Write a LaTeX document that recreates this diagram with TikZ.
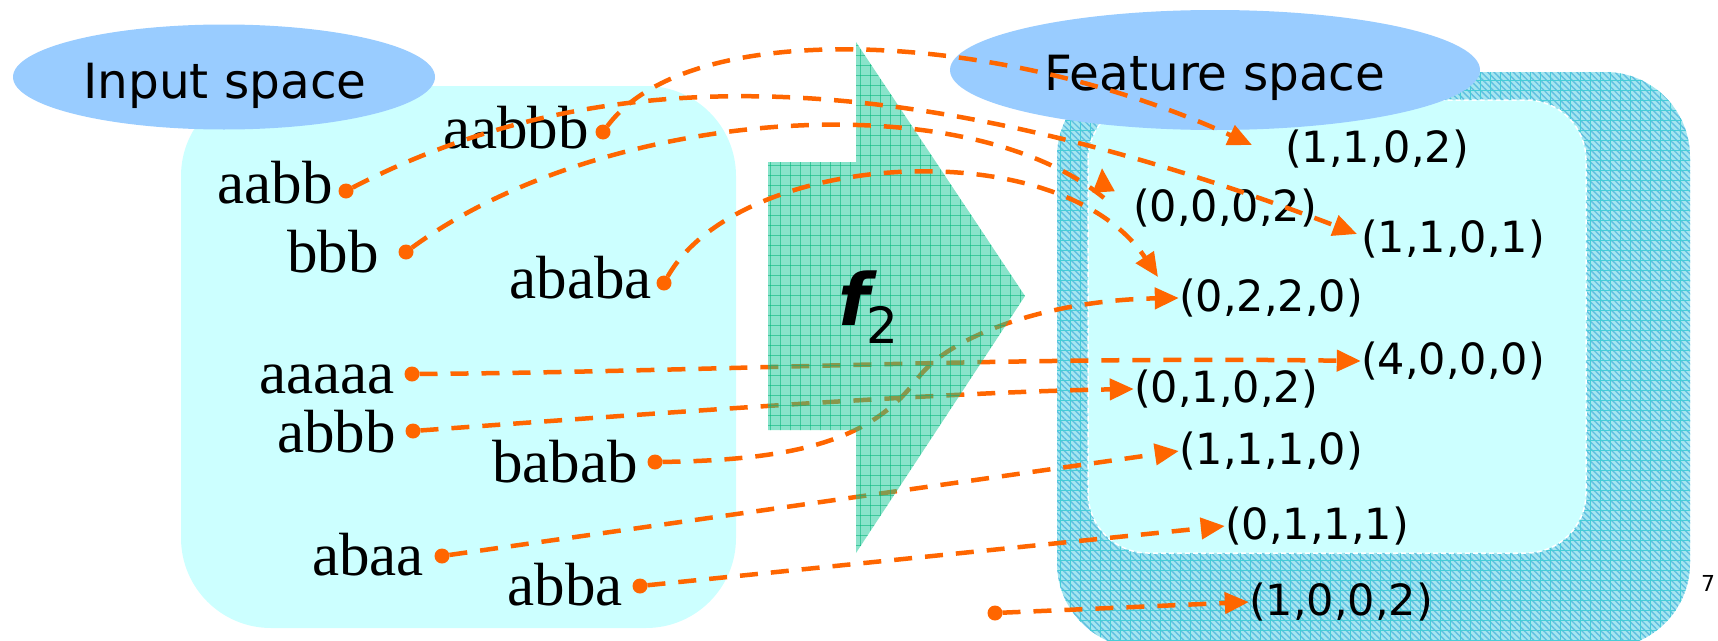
\documentclass[tikz,border=0pt]{standalone}
\usepackage{fontspec}
\setmainfont{Liberation Serif}
\newfontfamily\lblsans{DejaVu Sans}
\usetikzlibrary{arrows.meta,patterns.meta,shapes.geometric}
\definecolor{boxcyan}{RGB}{204,255,255}
\definecolor{ellblue}{RGB}{153,204,255}
\definecolor{orng}{RGB}{255,102,0}
\definecolor{hatchbase}{RGB}{165,230,240}
\definecolor{hatchline}{RGB}{95,190,225}
\definecolor{hatchgrid}{RGB}{70,205,215}
\definecolor{arrgreen}{RGB}{20,200,150}
\definecolor{gridgreen}{RGB}{0,180,120}
\begin{document}
\begin{tikzpicture}[x=1pt,y=-1pt,
  inlabel/.style={font=\fontsize{61}{70}\selectfont, anchor=base east, inner sep=0pt},
  featlabel/.style={font=\lblsans\fontsize{43}{50}\selectfont, inner sep=0pt},
  titlelabel/.style={font=\lblsans\fontsize{48.5}{56}\selectfont, anchor=base, inner sep=0pt},
  dotn/.style={circle, fill=orng, inner sep=0pt, outer sep=0pt, minimum size=15pt},
  conn/.style={draw=orng, line width=4.5pt, dash pattern=on 18pt off 13pt, -{Triangle[length=24pt,width=21pt]}},
  ellbox/.style={ellipse, fill=ellblue, inner sep=0pt, outer sep=0pt},
  ]
\useasboundingbox (0,0) rectangle (1718,640);

% input space box
\fill[boxcyan, rounded corners=90pt] (181,86) rectangle (736,628);

% feature space boxes
\fill[hatchbase, rounded corners=85pt] (1057,72) rectangle (1690,648);
\fill[pattern={Lines[angle=-45,distance=4.5pt,line width=1.4pt]}, pattern color=hatchline, rounded corners=85pt] (1057,72) rectangle (1690,648);
\fill[pattern={Hatch[angle=0,distance=10pt,line width=0.9pt]}, pattern color=hatchgrid, rounded corners=85pt] (1057,72) rectangle (1690,648);
\fill[boxcyan, rounded corners=60pt] (1088,100) rectangle (1586,553);
\draw[white, line width=1.5pt, dash pattern=on 5pt off 3pt, rounded corners=60pt] (1088,100) rectangle (1586,553);

% ellipses
\node[ellbox, minimum width=422pt, minimum height=105pt] (ein) at (224,77) {};
\node[ellbox, minimum width=530pt, minimum height=120pt] (efs) at (1215,70) {};
\node[titlelabel] (tin) at (225,98) {Input space};
\node[titlelabel] (tfs) at (1215,90) {Feature space};

% input labels
\node[inlabel] (l1) at (333,203) {aabb};
\node[inlabel] (l2) at (589,148) {aabbb};
\node[inlabel] (l3) at (379,272) {bbb};
\node[inlabel] (l4) at (652,298) {ababa};
\node[inlabel] (l5) at (395,393) {aaaaa};
\node[inlabel] (l6) at (396,452) {abbb};
\node[inlabel] (l7) at (638,482) {babab};
\node[inlabel] (l8) at (424,575) {abaa};
\node[inlabel] (l9) at (623,605) {abba};

% feature labels
\node[featlabel] (f1) at (1377,149) {(1,1,0,2)};
\node[featlabel] (f2) at (1225,208) {(0,0,0,2)};
\node[featlabel] (f3) at (1453,239) {(1,1,0,1)};
\node[featlabel] (f4) at (1271,298) {(0,2,2,0)};
\node[featlabel] (f5) at (1453,361) {(4,0,0,0)};
\node[featlabel] (f6) at (1226,389) {(0,1,0,2)};
\node[featlabel] (f7) at (1271,451) {(1,1,1,0)};
\node[featlabel] (f8) at (1317,526) {(0,1,1,1)};
\node[featlabel] (f9) at (1341,602) {(1,0,0,2)};

\node[font=\lblsans\fontsize{22}{26}\selectfont, anchor=base west, inner sep=0pt] (pg) at (1701,591) {7};

% dots
\node[dotn] (d1) at (346,191) {};
\node[dotn] (d2) at (603,132) {};
\node[dotn] (d3) at (406,252) {};
\node[dotn] (d4) at (664,283) {};
\node[dotn] (d5) at (412,374) {};
\node[dotn] (d6) at (413,431) {};
\node[dotn] (d7) at (655,462) {};
\node[dotn] (d8) at (442,556) {};
\node[dotn] (d9) at (640,586) {};
\node[dotn] (d0) at (995,613) {};

\coordinate (e1) at (1252,145);
\coordinate (e2a) at (1104,198);
\coordinate (e2) at (1102,168);
\coordinate (e3) at (1357,234);
\coordinate (e4) at (1158,277);
\coordinate (m7) at (918,378);

% connectors passing behind the mapping arrow
\draw[conn] (d5) .. controls (700,372) and (1000,356) .. (f5.west);
\draw[conn] (d6) .. controls (700,410) and (950,392) .. (f6.west);
\draw[conn] (d7) .. controls (810,460) and (875,435) .. (m7) .. controls (950,335) and (1050,300) .. (f4.west);
\draw[conn] (d8) -- (f7.west);
\draw[conn] (d9) -- (f8.west);

% mapping arrow f2
\begin{scope}
\clip (768,162) -- (856,162) -- (856,42) -- (1025,296) -- (856,553) -- (856,430) -- (768,430) -- cycle;
\fill[arrgreen, opacity=0.5] (760,30) rectangle (1030,560);
\foreach \gx in {770,780,...,1030} \draw[gridgreen, opacity=0.55, line width=1pt] (\gx,30) -- (\gx,560);
\foreach \gy in {45,55,...,560} \draw[gridgreen, opacity=0.55, line width=1pt] (760,\gy) -- (1030,\gy);
\end{scope}
\node[inner sep=0pt, anchor=base west, font=\lblsans] (fmap) at (838,325) {\fontsize{72}{80}\selectfont\bfseries\itshape f\kern-3pt\raisebox{-18pt}{\fontsize{50}{56}\selectfont\mdseries\upshape 2}};

% connectors in front
\draw[conn] (d2) .. controls (690,15) and (1000,30) .. (e1);
\draw[conn] (d1) .. controls (600,60) and (900,60) .. (e3);
\draw[conn] (d3) .. controls (600,110) and (960,80) .. (e2a) -- (e2);
\draw[conn] (d4) .. controls (740,150) and (1060,130) .. (e4);
\draw[conn] (d0) -- (f9.west);
\end{tikzpicture}
\end{document}
